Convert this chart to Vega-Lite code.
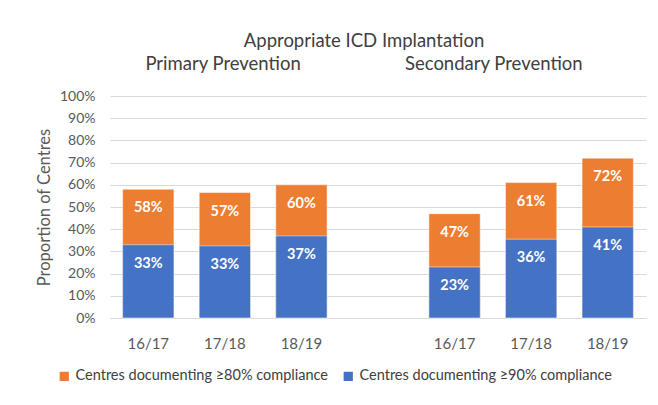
{
  "$schema": "https://vega.github.io/schema/vega-lite/v6.json",
  "width": 536,
  "height": 222,
  "autosize": {"type": "none"},
  "padding": {"left": 110, "top": 96, "right": 12, "bottom": 87},
  "background": "white",
  "config": {
    "font": "Lato",
    "view": {"stroke": null},
    "axis": {"labelColor": "#595959", "titleColor": "#595959", "labelFont": "Lato", "titleFont": "Lato"}
  },
  "title": {
    "text": "Appropriate ICD Implantation",
    "subtitle": "Primary Prevention\u00a0\u00a0\u00a0\u00a0\u00a0\u00a0\u00a0\u00a0\u00a0\u00a0\u00a0\u00a0\u00a0\u00a0\u00a0\u00a0\u00a0\u00a0\u00a0\u00a0\u00a0\u00a0Secondary Prevention",
    "anchor": "middle",
    "frame": "group",
    "dx": -14,
    "fontSize": 18.5,
    "fontWeight": "normal",
    "color": "#404040",
    "subtitleFontSize": 18.5,
    "subtitleColor": "#404040",
    "subtitlePadding": 4,
    "offset": 16
  },
  "data": {
    "values": [
      {"slot": "P 16/17", "series": "Centres documenting ≥80% compliance", "value": 0.58, "label": "58%"},
      {"slot": "P 17/18", "series": "Centres documenting ≥80% compliance", "value": 0.565, "label": "57%"},
      {"slot": "P 18/19", "series": "Centres documenting ≥80% compliance", "value": 0.60, "label": "60%"},
      {"slot": "S 16/17", "series": "Centres documenting ≥80% compliance", "value": 0.47, "label": "47%"},
      {"slot": "S 17/18", "series": "Centres documenting ≥80% compliance", "value": 0.61, "label": "61%"},
      {"slot": "S 18/19", "series": "Centres documenting ≥80% compliance", "value": 0.72, "label": "72%"},
      {"slot": "P 16/17", "series": "Centres documenting ≥90% compliance", "value": 0.33, "label": "33%"},
      {"slot": "P 17/18", "series": "Centres documenting ≥90% compliance", "value": 0.325, "label": "33%"},
      {"slot": "P 18/19", "series": "Centres documenting ≥90% compliance", "value": 0.37, "label": "37%"},
      {"slot": "S 16/17", "series": "Centres documenting ≥90% compliance", "value": 0.23, "label": "23%"},
      {"slot": "S 17/18", "series": "Centres documenting ≥90% compliance", "value": 0.355, "label": "36%"},
      {"slot": "S 18/19", "series": "Centres documenting ≥90% compliance", "value": 0.41, "label": "41%"}
    ]
  },
  "encoding": {
    "x": {
      "field": "slot",
      "type": "nominal",
      "sort": null,
      "scale": {
        "domain": ["P 16/17", "P 17/18", "P 18/19", " ", "S 16/17", "S 17/18", "S 18/19"],
        "paddingInner": 0.33,
        "paddingOuter": 0.165
      },
      "axis": {
        "title": null,
        "labelAngle": 0,
        "labelExpr": "substring(datum.value, 2)",
        "labelFontSize": 15,
        "labelPadding": 18,
        "ticks": false,
        "domainColor": "#d9d9d9"
      }
    },
    "y": {
      "field": "value",
      "type": "quantitative",
      "stack": null,
      "scale": {"domain": [0, 1]},
      "axis": {
        "title": "Proportion of Centres",
        "titleFontSize": 16.5,
        "titleFontWeight": "normal",
        "titlePadding": 7,
        "format": ".0%",
        "values": [0, 0.1, 0.2, 0.3, 0.4, 0.5, 0.6, 0.7, 0.8, 0.9, 1],
        "labelFontSize": 14,
        "labelPadding": 15,
        "ticks": false,
        "domain": false,
        "gridColor": "#d9d9d9"
      }
    }
  },
  "layer": [
    {
      "mark": {"type": "bar", "stroke": "white", "strokeWidth": 0.5},
      "encoding": {
        "color": {
          "field": "series",
          "type": "nominal",
          "scale": {
            "domain": ["Centres documenting ≥80% compliance", "Centres documenting ≥90% compliance"],
            "range": ["#ED7D31", "#4472C4"]
          },
          "legend": {
            "title": null,
            "orient": "none",
            "direction": "horizontal",
            "legendX": -53,
            "legendY": 273,
            "symbolType": "square",
            "symbolSize": 85,
            "symbolStrokeWidth": 0,
            "labelFontSize": 14.5,
            "labelLimit": 0,
            "labelColor": "#404040",
            "columnPadding": 13,
            "labelOffset": 4
          }
        }
      }
    },
    {
      "mark": {"type": "text", "color": "white", "fontWeight": "bold", "fontSize": 14.5, "baseline": "middle", "dy": 19},
      "encoding": {"text": {"field": "label"}}
    }
  ]
}
